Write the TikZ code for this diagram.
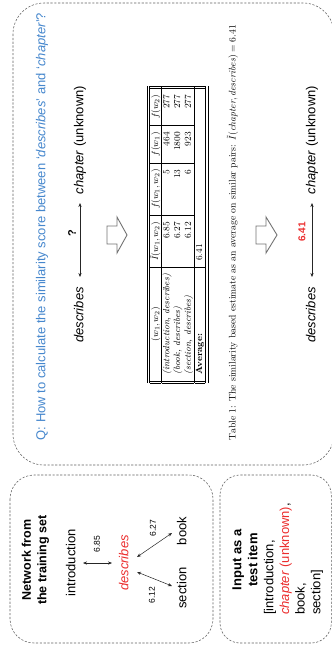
\documentclass[tikz,border=0pt]{standalone}
\usepackage{graphicx}
\usepackage{fontspec}
\newfontfamily\arial{Liberation Sans}
\usetikzlibrary{arrows.meta,calc}
\definecolor{qblue}{RGB}{70,135,205}
\definecolor{hred}{RGB}{235,45,45}
\definecolor{boxgray}{RGB}{95,95,95}
\definecolor{arrgray}{RGB}{115,115,115}
\begin{document}
\begin{tikzpicture}[x=1pt,y=-1pt,
  dbox/.style={draw=boxgray, dash pattern=on 2.2pt off 1.6pt, line width=0.55pt},
  txt/.style={rotate=90, inner sep=1pt, font=\arial\fontsize{13}{15.5}\selectfont, text height=9.3pt, text depth=2.7pt},
  multi/.style={rotate=90, inner sep=0pt, font=\arial\fontsize{13}{15.5}\selectfont},
  small/.style={rotate=90, inner sep=0pt, font=\arial\fontsize{8.5}{10}\selectfont},
  conn/.style={{Stealth[length=4pt,width=3.2pt]}-{Stealth[length=4pt,width=3.2pt]}, line width=0.5pt, draw=black!85},
  hollow/.style={draw=arrgray, line width=0.9pt, fill=white, line join=miter},
]
\useasboundingbox (0,0) rectangle (332,648);
\begin{scope}
\clip (0,0) rectangle (332,648);
\draw[dbox, rounded corners=31pt] (13,3) rectangle (334,465);
\draw[dbox, rounded corners=24pt] (10,475) rectangle (213,643);
\draw[dbox, rounded corners=20pt] (220,475) rectangle (331.3,643);
\end{scope}

% question
\node[multi, text=qblue] (title) at (42,226.5) {Q: How to calculate the similarity score between ‘\textit{describes}’ and ‘\textit{chapter}’?};

% top row
\node[txt] (d1) at (80,315) {\textit{describes}};
\node[txt] (c1) at (80,140) {\textit{chapter} (unknown)};
\draw[conn] ($(d1.center)+(0,-38)$) -- ($(c1.center)+(0,63)$);
\node[rotate=90, inner sep=0pt, font=\arial\bfseries\fontsize{11}{13}\selectfont] (q) at (72,233) {?};

% hollow arrows
\draw[hollow] (107,226) -- (117,226) -- (117,217) -- (127,235) -- (117,253) -- (117,244) -- (107,244) -- cycle;
\draw[hollow] (256,226) -- (266,226) -- (266,217) -- (277,235) -- (266,253) -- (266,244) -- (256,244) -- cycle;

% table
\node[rotate=90, inner sep=0pt] (tab) at (177.5,234.5) {\resizebox*{297pt}{61pt}{\fontsize{8}{9.5}\selectfont
\begin{tabular}{||l|r|r|r|r||}
\hline\hline
\multicolumn{1}{||c|}{$(w_1,w_2)$} & \multicolumn{1}{c|}{$\tilde{I}(w_1,w_2)$} & \multicolumn{1}{c|}{$f(w_1,w_2)$} & \multicolumn{1}{c|}{$f(w_1)$} & \multicolumn{1}{c||}{$f(w_2)$}\\
\hline
\textit{(introduction, describes)} & 6.85 & 5 & 464 & 277\\
\textit{(book, describes)} & 6.27 & 13 & 1800 & 277\\
\textit{(section, describes)} & 6.12 & 6 & 923 & 277\\
\hline
\textbf{Average:} & \multicolumn{4}{l||}{6.41}\\
\hline\hline
\end{tabular}}};

% caption
\node[rotate=90, inner sep=0pt] (cap) at (232.5,232.5) {\resizebox{415pt}{!}{Table 1: The similarity based estimate as an average on similar pairs: $\tilde{I}(\mathit{chapter},\mathit{describes})=6.41$}};

% bottom row
\node[txt] (d2) at (312,315) {\textit{describes}};
\node[txt] (c2) at (312,140) {\textit{chapter} (unknown)};
\draw[conn] ($(d2.center)+(0,-38)$) -- ($(c2.center)+(0,63)$);
\node[rotate=90, inner sep=0pt, text=hred, font=\arial\bfseries\fontsize{10}{12}\selectfont] (v) at (302,232) {6.41};

% network box
\node[multi, align=center, font=\arial\bfseries\fontsize{12.5}{15.5}\selectfont] (nettitle) at (35.5,560) {Network from\\the training set};
\node[txt] (intro) at (72,563) {introduction};
\node[txt, text=hred] (desc) at (125,563) {\textit{describes}};
\node[txt] (sec) at (183,588) {section};
\node[txt] (book) at (183,531) {book};
\draw[conn] ($(intro.center)+(11,0)$) -- ($(desc.center)+(-13,0)$);
\draw[conn] ($(desc.center)+(12,-6)$) -- ($(book.center)+(-11,2)$);
\draw[conn] ($(desc.center)+(12,9)$) -- ($(sec.center)+(-11,-2)$);
\node[small] (l1) at (97,544) {6.85};
\node[small] (l2) at (153,528) {6.27};
\node[small] (l3) at (152,595) {6.12};

% input box
\node[multi, align=center, font=\arial\bfseries\fontsize{13}{16}\selectfont] (inptitle) at (245,560) {Input as a\\test item};
\node[multi, align=left, anchor=west, font=\arial\fontsize{13}{15.7}\selectfont] (inplist) at (293.5,615) {[introduction,\\\textcolor{hred}{\textit{chapter} (unknown)},\\book,\\section]};
\end{tikzpicture}
\end{document}
